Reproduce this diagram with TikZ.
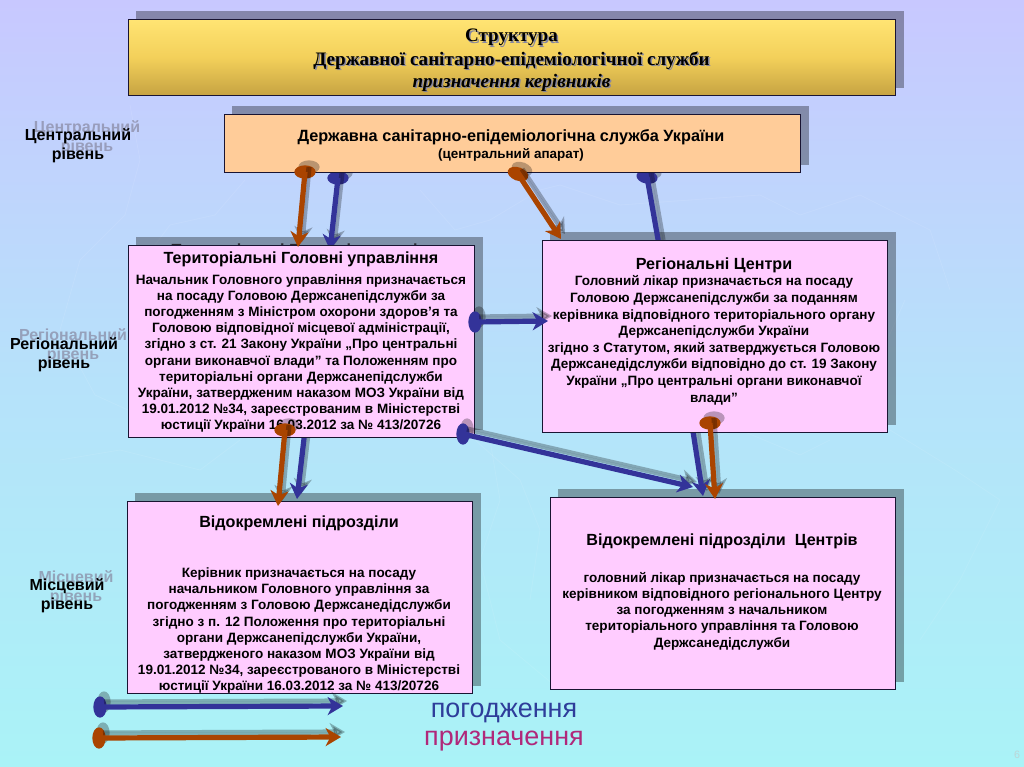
\documentclass[tikz,border=0pt]{standalone}
\usepackage{fontspec}
\setmainfont{Liberation Sans}
\newfontfamily\ttlfont{Liberation Serif}
\usetikzlibrary{arrows.meta,shapes.geometric}
\definecolor{bgtop}{RGB}{200,200,255}
\definecolor{bgmid}{RGB}{182,226,250}
\definecolor{bgbot}{RGB}{170,243,247}
\definecolor{linkblue}{RGB}{51,51,153}
\definecolor{linkred}{RGB}{170,68,0}
\definecolor{panelpink}{RGB}{255,204,255}
\definecolor{panelpeach}{RGB}{255,204,153}
\definecolor{edgenavy}{RGB}{25,20,50}
\definecolor{ghostgray}{RGB}{135,135,160}
\definecolor{legblue}{RGB}{46,61,154}
\definecolor{legmag}{RGB}{176,40,122}
\definecolor{goldtop}{RGB}{255,228,115}
\definecolor{goldmid}{RGB}{243,208,90}
\definecolor{goldbot}{RGB}{198,163,66}
\pgfdeclarelayer{bglayer}
\pgfdeclarelayer{shadowlayer}
\pgfdeclarelayer{underlayer}
\pgfdeclarelayer{toplayer}
\pgfsetlayers{bglayer,shadowlayer,underlayer,main,toplayer}
\tikzset{
  panel/.style={draw=edgenavy,line width=0.7pt,fill=panelpink,anchor=north west,inner sep=0pt},
  boxtext/.style={align=center,anchor=north,inner sep=0pt,font=\bfseries\fontsize{10.15}{12.15}\selectfont,text=black},
  boxhead/.style={anchor=center,inner sep=0pt,font=\bfseries\fontsize{12.1}{14}\selectfont,text=black},
  lvl/.style={align=center,anchor=north,inner sep=0pt,font=\bfseries\fontsize{12}{14.3}\selectfont,text=black},
  lvlghost/.style={lvl,text=ghostgray,opacity=.7},
  boxshade/.style={fill=black,opacity=.33},
  shaft/.style={line width=3.9pt,-{Stealth[length=11.5pt,width=13.5pt,inset=3.5pt]}},
  shaftghost/.style={shaft,draw=black,fill=black,opacity=.27},
  dot/.style={ellipse,minimum width=16pt,minimum height=10pt,inner sep=0pt,draw=none},
  mapline/.style={draw=white,opacity=.09,line width=0.6pt,line join=round},
  ttl/.style={anchor=center,inner sep=0pt,font=\ttlfont\bfseries\fontsize{14.3}{16}\selectfont},
}
\newcommand{\boxghost}[1]{\fill[boxshade] ([shift={(8,-8)}]#1.south west) rectangle ([shift={(8,-8)}]#1.north east);}
\newcommand{\placedot}[5]{% name, x, y, colour, rotation
  \node[dot,fill=black,opacity=.27,rotate=#5] (#1s) at (#2+4,#3-5) {};
  \node[dot,fill=#4,rotate=#5] (#1) at (#2,#3) {};}
\newcommand{\linkup}[3]{% from, to, colour
  \draw[shaftghost] ([shift={(4,-5)}]#1.center) -- ([shift={(4,-5)}]#2);
  \draw[shaft,draw=#3,fill=#3] (#1.center) -- (#2);}
\begin{document}
\begin{tikzpicture}[x=0.75pt,y=-0.75pt]
\useasboundingbox (0,0) rectangle (1024,767);
\begin{pgfonlayer}{bglayer}
  \shade[top color=bgtop,bottom color=bgbot,middle color=bgmid] (0,0) rectangle (1024,767);
  \draw[mapline] (130,105) -- (140,160) -- (125,215) -- (80,260) -- (60,330) -- (95,395) -- (150,420);
  \draw[mapline] (245,180) -- (215,215) -- (170,225) -- (155,245);
  \draw[mapline] (420,190) -- (455,230) -- (490,220) -- (540,190) -- (560,185) -- (620,205) -- (690,200) -- (760,195) -- (800,215) -- (860,195) -- (930,230) -- (950,290);
  \draw[mapline] (905,300) -- (885,345) -- (820,345);
  \draw[mapline] (490,440) -- (500,500) -- (480,560) -- (500,640) -- (560,690);
  \draw[mapline] (475,440) -- (520,480) -- (540,530) -- (530,600);
  \draw[mapline] (890,430) -- (955,470) -- (1000,500) -- (960,580) -- (920,640);
  \draw[mapline] (240,440) -- (200,470) -- (120,450) -- (60,460);
  \draw[mapline] (700,440) -- (740,430) -- (800,455) -- (830,440);
\end{pgfonlayer}

% level labels
\node[lvlghost] (g1) at (87,120) {Центральний\\рівень};
\node[lvl] (l1) at (78,128) {Центральний\\рівень};
\node[lvlghost] (g2) at (73,328) {Регіональний\\рівень};
\node[lvl] (l2) at (64,337) {Регіональний\\рівень};
\node[lvlghost] (g3) at (76,570) {Місцевий\\рівень};
\node[lvl] (l3) at (67,578) {Місцевий\\рівень};

% panels
\node[panel,minimum width=767pt*0.75,minimum height=76pt*0.75,top color=goldtop,bottom color=goldbot,middle color=goldmid] (title) at (128,19) {};
\foreach \tn/\ty/\tt/\tf in {a/37.5/Структура/,b/60.5/Державної санітарно-епідеміологічної служби/,c/82.5/призначення керівників/\itshape}{
  \node[ttl,text=ghostgray] (t\tn g) at (513,\ty+1.5) {\tf\tt};
  \node[ttl,text=black] (t\tn) at (511.5,\ty) {\tf\tt};
}

\node[panel,fill=panelpeach,minimum width=576pt*0.75,minimum height=58pt*0.75] (central) at (224,114) {};
\node[boxhead,font=\bfseries\fontsize{12.2}{14}\selectfont] (centrala) at (511,137) {Державна санітарно-епідеміологічна служба України};
\node[boxhead,font=\bfseries\fontsize{10.1}{12}\selectfont] (centralb) at (511,155) {(центральний апарат)};

\begin{pgfonlayer}{shadowlayer}
  \node[boxhead,text=black!55!ghostgray] (terrg) at (309,251.5) {Територіальні Головні управління};
\end{pgfonlayer}
\node[panel,minimum width=346pt*0.75,minimum height=192pt*0.75] (terr) at (128,245) {};
\node[boxhead] (terrh) at (301,259.5) {Територіальні Головні управління};
\node[boxtext] (terrt) at (301,274) {Начальник Головного управління призначається\\на посаду Головою Держсанепідслужби за\\погодженням з Міністром охорони здоров’я та\\Головою відповідної місцевої адміністрації,\\згідно з ст. 21 Закону України „Про центральні\\органи виконавчої влади” та Положенням про\\територіальні органи Держсанепідслужби\\України, затвердженим наказом МОЗ України від\\19.01.2012 №34, зареєстрованим в Міністерстві\\юстиції України 16.03.2012 за № 413/20726};

\node[panel,minimum width=345pt*0.75,minimum height=192pt*0.75] (reg) at (542,240) {};
\node[boxhead] (regh) at (714,265.5) {Регіональні Центри};
\node[boxtext,font=\bfseries\fontsize{10.15}{12.45}\selectfont] (regt) at (714,275.5) {Головний лікар призначається на посаду\\Головою Держсанепідслужби за поданням\\керівника відповідного територіального органу\\Держсанепідслужби України\\згідно з Статутом, який затверджується Головою\\Держсанедідслужби відповідно до ст. 19 Закону\\України „Про центральні органи виконавчої\\влади”};

\node[panel,minimum width=345pt*0.75,minimum height=192pt*0.75] (sep) at (127,501) {};
\node[boxhead] (seph) at (299,523.5) {Відокремлені підрозділи};
\node[boxtext] (sept) at (299,567.5) {Керівник призначається на посаду\\начальником Головного управління за\\погодженням з Головою Держсанедідслужби\\згідно з п. 12 Положення про територіальні\\органи Держсанепідслужби України,\\затвердженого наказом МОЗ України від\\19.01.2012 №34, зареєстрованого в Міністерстві\\юстиції України 16.03.2012 за № 413/20726};

\node[panel,minimum width=345pt*0.75,minimum height=192pt*0.75] (sepc) at (550,497) {};
\node[boxhead] (sepch) at (722,541.5) {Відокремлені підрозділи\ \ Центрів};
\node[boxtext] (sepct) at (722,572) {головний лікар призначається на посаду\\керівником відповідного регіонального Центру\\за погодженням з начальником\\територіального управління та Головою\\Держсанедідслужби};

\begin{pgfonlayer}{shadowlayer}
  \boxghost{title}
  \boxghost{central}
  \boxghost{terr}
  \boxghost{reg}
  \boxghost{sep}
  \boxghost{sepc}
\end{pgfonlayer}

% arrow ends
\coordinate (t1) at (298,247);
\coordinate (t2) at (330,250);
\coordinate (t3) at (561,239);
\coordinate (t4) at (659,245);
\coordinate (t5) at (548,321);
\coordinate (t6) at (278,506);
\coordinate (t7) at (297,499);
\coordinate (t8) at (693,487);
\coordinate (t9) at (703,496);
\coordinate (t10) at (715,499);
\coordinate (t11) at (343,706);
\coordinate (t12) at (341,737);

% links that pass behind the panels
\begin{pgfonlayer}{underlayer}
  \placedot{d2}{338}{178}{linkblue}{0}
  \linkup{d2}{t2}{linkblue}
  \placedot{d4}{647}{177}{linkblue}{-10}
  \draw[shaftghost,-] ([shift={(4,-5)}]d4.center) -- ([shift={(4,-5)}]t4);
  \draw[shaft,-,draw=linkblue] (d4.center) -- (t4);
  \coordinate (s7) at (305,430);
  \draw[shaftghost] ([shift={(4,-5)}]s7) -- ([shift={(4,-5)}]t7);
  \draw[shaft,draw=linkblue,fill=linkblue] (s7) -- (t7);
  \coordinate (s9) at (692,425);
  \draw[shaftghost] ([shift={(4,-5)}]s9) -- ([shift={(4,-5)}]t9);
  \draw[shaft,draw=linkblue,fill=linkblue] (s9) -- (t9);
\end{pgfonlayer}

% links above the panels
\begin{pgfonlayer}{toplayer}
  \placedot{d1}{305}{172}{linkred}{0}
  \linkup{d1}{t1}{linkred}
  \placedot{d3}{518}{174}{linkred}{-20}
  \linkup{d3}{t3}{linkred}
  \placedot{d5}{475}{322}{linkblue}{90}
  \linkup{d5}{t5}{linkblue}
  \placedot{d6}{285}{430}{linkred}{0}
  \linkup{d6}{t6}{linkred}
  \placedot{d8}{463}{434}{linkblue}{90}
  \linkup{d8}{t8}{linkblue}
  \placedot{d10}{710}{423}{linkred}{0}
  \linkup{d10}{t10}{linkred}
  \placedot{d11}{100}{707}{linkblue}{90}
  \linkup{d11}{t11}{linkblue}
  \placedot{d12}{99}{738}{linkred}{90}
  \linkup{d12}{t12}{linkred}
\end{pgfonlayer}

\node[inner sep=0pt,font=\fontsize{20.2}{22}\selectfont,text=legblue] (lega) at (504,713) {погодження};
\node[inner sep=0pt,font=\fontsize{20.2}{22}\selectfont,text=legmag] (legb) at (504,741) {призначення};
\node[inner sep=0pt,font=\fontsize{8}{10}\selectfont,text=white!60!bgbot!85!black] (pagenum) at (1017,755) {6};
\end{tikzpicture}
\end{document}
